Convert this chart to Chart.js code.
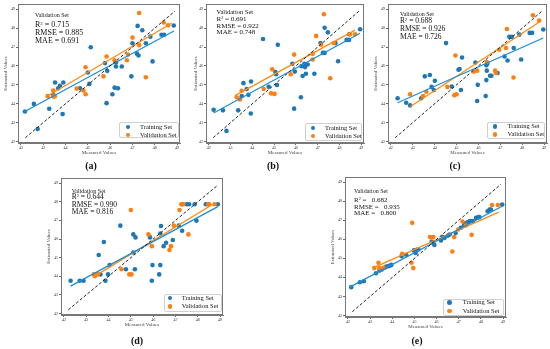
<!DOCTYPE html>
<html><head><meta charset="utf-8">
<script src="https://cdn.jsdelivr.net/npm/chart.js@4/dist/chart.umd.min.js"></script>
<style>
body{margin:0;width:550px;height:349px;background:#fff;position:relative;overflow:hidden;font-family:"Liberation Serif","DejaVu Serif",serif;}
.txt{position:absolute;color:#111;white-space:pre;line-height:1;}
.leg{position:absolute;border:1px solid #d0d0d0;border-radius:2px;background:#fff;box-sizing:border-box;}
.dot{position:absolute;border-radius:50%;width:4.6px;height:4.6px;}
.lab{position:absolute;font-weight:bold;font-size:10px;line-height:1;transform:translate(-50%,-50%);color:#111;}
#info{position:absolute;left:0;top:0;width:0;height:0;display:none;}
</style></head><body>
<div id="info"></div>
<script>
// ---------- DATA ----------
const tickValues = [42, 43, 44, 45, 46, 47, 48, 49];
const seriesNames = ['Training Set', 'Validation Set'];

// (a)
const trainXA = [42.18,42.58,42.75,43.27,43.45,43.53,43.67,43.75,43.90,43.87,44.65,45.00,45.07,45.13,45.77,45.84,45.87,46.26,46.26,46.20,46.35,46.10,46.52,46.95,47.23,47.44,47.00,47.20,47.27,47.60,47.80,47.90,48.30,48.42,48.85];
const trainYA = [43.59,43.99,42.66,43.73,44.47,45.12,44.82,44.95,45.12,43.45,44.82,45.65,45.05,46.99,46.15,44.03,45.74,45.97,46.18,44.85,44.82,44.50,45.97,45.45,48.12,47.89,47.20,46.65,46.55,47.20,47.55,46.24,47.65,47.65,48.14];
const validXA = [43.20,43.45,43.52,43.45,44.50,44.80,44.90,44.90,45.70,45.84,46.20,46.80,46.75,47.00,47.30,47.30,47.60,48.40,48.60];
const validYA = [44.40,44.38,44.40,44.70,44.80,44.70,44.50,45.93,45.45,46.50,46.30,46.60,46.30,47.50,48.80,47.10,45.40,48.30,48.15];
const fitTrainA = [[42.13,43.56],[48.86,47.85]];
const fitValidA = [[43.15,44.38],[48.76,48.26]];
const statsA = ['0.715','0.885','0.691'];

// (b)
const trainXB = [42.22,42.65,42.81,43.35,43.59,43.74,43.82,43.94,43.93,43.51,44.49,44.75,45.06,45.09,45.13,45.17,45.84,45.92,45.95,46.26,46.31,46.39,46.42,46.46,46.23,46.54,46.85,47.13,47.24,47.32,47.32,47.47,47.82,47.94,48.33,48.44,48.45,48.95];
const trainYB = [43.68,43.65,42.56,43.65,45.09,44.78,44.47,45.18,43.48,44.40,47.43,44.90,45.68,45.56,44.99,47.12,46.11,43.74,45.70,45.99,45.47,46.11,45.94,45.59,44.34,46.08,45.59,47.21,46.69,46.69,48.02,47.78,47.21,46.25,47.38,47.38,47.68,47.94];
const validXB = [43.28,43.43,43.51,44.52,44.91,44.86,45.02,45.76,45.92,46.77,46.77,46.93,47.16,47.29,47.58,47.74,48.49,48.72];
const validYB = [44.34,44.22,44.69,44.78,45.82,44.55,44.52,45.56,46.60,46.64,46.34,47.59,47.12,48.74,45.35,47.21,47.68,47.68];
const fitTrainB = [[42.22,43.51],[48.95,47.73]];
const fitValidB = [[43.20,44.43],[48.72,47.90]];
const statsB = ['0.691','0.922','0.748'];

// (c)
const trainXC = [42.31,42.70,42.88,43.39,43.55,43.78,43.86,44.01,43.96,44.52,44.78,45.09,45.14,45.20,45.25,45.86,45.94,45.97,46.33,46.36,46.36,46.41,46.38,46.53,46.59,46.87,47.19,47.33,47.41,47.52,47.61,47.87,47.95,48.34,48.45,48.96];
const trainYC = [44.29,44.05,43.91,44.29,45.45,45.52,44.89,45.21,44.73,47.21,44.91,45.80,45.84,44.73,46.45,46.18,44.14,45.00,44.41,45.25,46.04,46.13,45.75,45.48,45.48,45.63,46.50,46.29,47.54,47.54,46.95,47.66,46.34,47.75,47.75,47.93];
const validXC = [42.88,43.47,43.62,44.58,44.95,44.90,45.00,45.79,45.94,46.38,46.76,46.79,46.95,47.26,47.30,47.60,48.49,48.77];
const validYC = [44.50,44.41,44.63,44.89,46.55,44.45,44.50,45.70,45.75,46.21,45.75,45.63,46.86,46.95,47.96,45.39,48.68,48.41];
const fitTrainC = [[42.31,44.05],[48.96,47.48]];
const fitValidC = [[42.88,43.84],[48.80,48.34]];
const statsC = ['0.688','0.926','0.726'];

// (d)
const trainXD = [42.30,42.71,42.88,43.56,43.79,43.86,44.05,43.98,43.64,44.53,44.78,45.11,45.21,45.18,45.11,45.86,45.97,45.94,46.32,46.27,46.35,46.32,46.47,46.58,46.88,47.15,47.30,47.30,47.50,47.61,47.86,47.94,48.36,48.46,48.90];
const trainYD = [43.76,43.76,43.76,45.14,45.84,43.76,44.60,44.10,44.10,46.72,44.38,46.25,46.09,44.38,45.28,46.09,44.60,43.76,44.60,44.10,46.70,46.30,45.62,45.80,45.95,46.72,46.45,47.87,47.87,47.87,47.87,46.99,47.87,47.87,47.87];
const validXD = [43.34,43.43,43.52,43.39,44.58,44.93,45.03,45.00,45.79,45.94,46.73,46.80,46.93,47.18,47.26,47.35,47.58,48.47,48.51,48.75];
const validYD = [44.10,44.10,44.10,44.01,44.38,44.10,44.10,47.56,46.25,45.62,45.41,45.62,46.72,47.56,47.87,47.87,46.25,47.87,47.87,47.87];
const fitTrainD = [[42.30,43.47],[48.90,47.74]];
const fitValidD = [[43.29,43.94],[48.75,47.92]];
const statsD = ['0.644','0.990','0.816'];

// (e)
const trainXE = [42.15,42.54,42.72,43.27,43.42,43.53,43.65,43.73,43.83,43.91,43.96,44.42,44.63,44.98,45.03,45.06,45.10,45.18,45.78,45.82,45.90,46.20,46.28,46.36,46.51,46.59,46.86,47.09,47.23,47.28,47.40,47.50,47.63,47.78,47.89,47.93,48.30,48.39,48.45,48.96];
const trainYE = [43.49,43.75,43.80,44.22,44.36,44.42,44.50,44.57,44.59,44.63,44.66,45.12,45.19,45.42,45.36,45.29,45.45,45.47,45.89,45.82,45.71,45.94,46.12,46.08,46.20,46.26,46.33,46.61,46.73,46.85,46.90,46.96,46.96,47.13,47.17,47.17,47.48,47.57,47.57,47.83];
const validXE = [43.19,43.38,43.42,43.61,44.45,44.87,44.90,44.95,45.70,45.85,46.71,46.79,46.97,47.17,47.32,47.58,48.50,48.76];
const validYE = [44.49,44.77,44.49,44.50,45.24,44.77,46.87,44.49,46.12,46.12,45.36,46.12,46.52,46.94,46.73,46.24,47.81,47.81];
const fitTrainE = [[42.08,43.49],[48.96,47.74]];
const fitValidE = [[43.22,44.54],[48.80,47.43]];
const statsE = ['0.682','0.935','0.800'];

const idealLine = [[42.2,42.2],[48.9,48.9]];

// ---------- LAYOUT / STYLE ----------
const FONT = '"Liberation Serif","DejaVu Serif",serif';
const BLUE = '#1f77b4', ORANGE = '#ff7f0e', BLUE_LINE = '#1b8fd8', ORANGE_LINE = '#ff8a12';

const panels = [
  {id:'a', tx:trainXA, ty:trainYA, vx:validXA, vy:validYA, ft:fitTrainA, fv:fitValidA, st:statsA, sep:' = ',
   fl:18, fT:4, fw:162, fh:139, L:18, tp:3,
   text:{x:35, head:15, lines:[25,33,41], hs:6, ms:8},
   leg:{x:119, y:122, w:60, h:16, mx:128, tx:140, r1:127, r2:135},
   lab:{x:91, y:166}},
  {id:'b', tx:trainXB, ty:trainYB, vx:validXB, vy:validYB, ft:fitTrainB, fv:fitValidB, st:statsB, sep:' = ',
   fl:206, fT:4, fw:158, fh:139, L:14, tp:1,
   text:{x:216.5, head:12.7, lines:[19.5,26.2,32.9], hs:6.5, ms:7},
   leg:{x:305, y:123, w:57, h:18, mx:313, tx:325, r1:128, r2:136},
   lab:{x:273, y:166}},
  {id:'c', tx:trainXC, ty:trainYC, vx:validXC, vy:validYC, ft:fitTrainC, fv:fitValidC, st:statsC, sep:' = ',
   fl:388, fT:4, fw:159, fh:139, L:18, tp:3,
   text:{x:400, head:14, lines:[21,29,36.7], hs:6, ms:7.5},
   leg:{x:487, y:122, w:58, h:17, mx:495, tx:507.5, r1:126.7, r2:134.5},
   lab:{x:455, y:166}},
  {id:'d', tx:trainXD, ty:trainYD, vx:validXD, vy:validYD, ft:fitTrainD, fv:fitValidD, st:statsD, sep:' = ',
   fl:61, fT:178, fw:162, fh:137, L:18, tp:3,
   text:{x:71.7, head:190.5, lines:[197,204.3,212], hs:6, ms:7.5},
   leg:{x:163.5, y:294, w:58, h:17.5, mx:170, tx:181.7, r1:297.8, r2:306.7},
   lab:{x:137, y:341}},
  {id:'e', tx:trainXE, ty:trainYE, vx:validXE, vy:validYE, ft:fitTrainE, fv:fitValidE, st:statsE, sep:' =   ',
   fl:345, fT:177, fw:161, fh:140, L:18, tp:3,
   text:{x:354, head:190.7, lines:[200,207.3,213.8], hs:6, ms:7},
   leg:{x:443, y:298.5, w:61, h:17.5, mx:449.3, tx:462.7, r1:302.7, r2:311},
   lab:{x:417, y:341}}
];

const framePlugin = {
  id:'frame',
  afterDraw(chart){
    const a = chart.chartArea, ctx = chart.ctx;
    ctx.save(); ctx.strokeStyle = '#777'; ctx.lineWidth = 1;
    ctx.strokeRect(Math.round(a.left)+0.5, Math.round(a.top)+0.5, Math.round(a.right-a.left)-1, Math.round(a.bottom-a.top)-1);
    ctx.restore();
  }
};

function toPoints(xs, ys){ return xs.map((x,i)=>({x:x, y:ys[i]})); }
function toSegment(s){ return s.map(q=>({x:q[0], y:q[1]})); }

function addText(x, y, html, size){
  const d = document.createElement('div');
  d.className = 'txt'; d.style.left = x+'px'; d.style.top = (y - size/2)+'px';
  d.style.fontSize = size+'px'; d.innerHTML = html;
  document.body.appendChild(d); return d;
}

const info = document.getElementById('info');
const charts = [];
let infoText = '';

panels.forEach(p=>{
  const T = 4, R = 4, B = 13;
  const W = p.fw + p.L + R, H = p.fh + T + B;
  const c = document.createElement('canvas'); c.width = W; c.height = H;
  c.style.cssText = 'position:absolute;left:'+(p.fl - p.L)+'px;top:'+(p.fT - T)+'px;width:'+W+'px;height:'+H+'px';
  document.body.appendChild(c);

  const axisCommon = {
    type:'linear',
    afterBuildTicks:s=>{ s.ticks = tickValues.map(v=>({value:v})); },
    grid:{drawOnChartArea:false, drawTicks:true, tickLength:2, tickColor:'#666'},
    border:{display:true, color:'#777', width:1},
    ticks:{font:{family:FONT, size:4}, color:'#333', padding:1, maxRotation:0, minRotation:0, autoSkip:false}
  };

  const lineDs = (s, color, w, dash) => ({data:toSegment(s), showLine:true, borderColor:color, backgroundColor:color,
    borderWidth:w, borderDash:dash, pointRadius:0});

  try {
  const ch = new Chart(c, {
    type:'scatter',
    data:{datasets:[
      lineDs(idealLine, '#222', 1, [3,2]),
      lineDs(p.ft, BLUE_LINE, 1.3, []),
      lineDs(p.fv, ORANGE_LINE, 1.3, []),
      {data:toPoints(p.vx, p.vy), backgroundColor:ORANGE, borderWidth:0, pointRadius:2.3},
      {data:toPoints(p.tx, p.ty), backgroundColor:BLUE, borderWidth:0, pointRadius:2.3}
    ]},
    options:{
      responsive:false, devicePixelRatio:1, animation:false,
      layout:{padding:{left:0, top:T, right:R, bottom:0}},
      plugins:{legend:{display:false}, tooltip:{enabled:false}},
      scales:{
        x:Object.assign({}, axisCommon, {min:41.87, max:49.13, position:'bottom',
          afterFit:s=>{ s.height = B; },
          title:{display:true, text:'Measured Values', font:{family:FONT, size:5}, color:'#444', padding:{top:0, bottom:0}}}),
        y:Object.assign({}, axisCommon, {min:41.92, max:49.28, position:'left',
          afterFit:s=>{ s.width = p.L; },
          title:{display:true, text:'Estimated Values', font:{family:FONT, size:5}, color:'#444', padding:{top:p.tp, bottom:0}}})
      }
    },
    plugins:[framePlugin]
  });
  charts.push(ch);
  [0,1,2].forEach(i=>{const m=ch.getDatasetMeta(i); infoText+=i+':'+(!!m.dataset)+','+(m.dataset&&m.dataset.points?m.dataset.points.length:'-')+','+m.controller._drawCount+','+(m.data[0]?[Math.round(m.data[0].x),Math.round(m.data[0].y)]:'-')+','+(m.dataset?m.dataset.options.borderWidth:'-')+','+m.controller.options.showLine+';';});
  info.setAttribute('data-info', infoText);
  } catch(e) { info.setAttribute('data-err', e.message); }

  // annotation text
  const t = p.text;
  addText(t.x, t.head, 'Validation Set', t.hs);
  addText(t.x, t.lines[0], 'R<sup style="font-size:0.6em;vertical-align:0.5em;line-height:0">2</sup>' + p.sep + p.st[0], t.ms);
  addText(t.x, t.lines[1], 'RMSE' + p.sep + p.st[1], t.ms);
  addText(t.x, t.lines[2], 'MAE' + p.sep + p.st[2], t.ms);

  // legend
  const lg = p.leg;
  const box = document.createElement('div'); box.className = 'leg';
  box.style.left = lg.x+'px'; box.style.top = lg.y+'px'; box.style.width = lg.w+'px'; box.style.height = lg.h+'px';
  document.body.appendChild(box);
  [[lg.r1, BLUE, seriesNames[0]], [lg.r2, ORANGE, seriesNames[1]]].forEach(r=>{
    const d = document.createElement('div'); d.className = 'dot';
    d.style.left = (lg.mx - 2.3)+'px'; d.style.top = (r[0] - 2.3)+'px'; d.style.background = r[1];
    document.body.appendChild(d);
    addText(lg.tx, r[0], r[2], 6.5);
  });

  // panel label
  const l = document.createElement('div'); l.className = 'lab';
  l.style.left = p.lab.x+'px'; l.style.top = p.lab.y+'px'; l.textContent = '(' + p.id + ')';
  document.body.appendChild(l);
});
</script>
</body></html>
